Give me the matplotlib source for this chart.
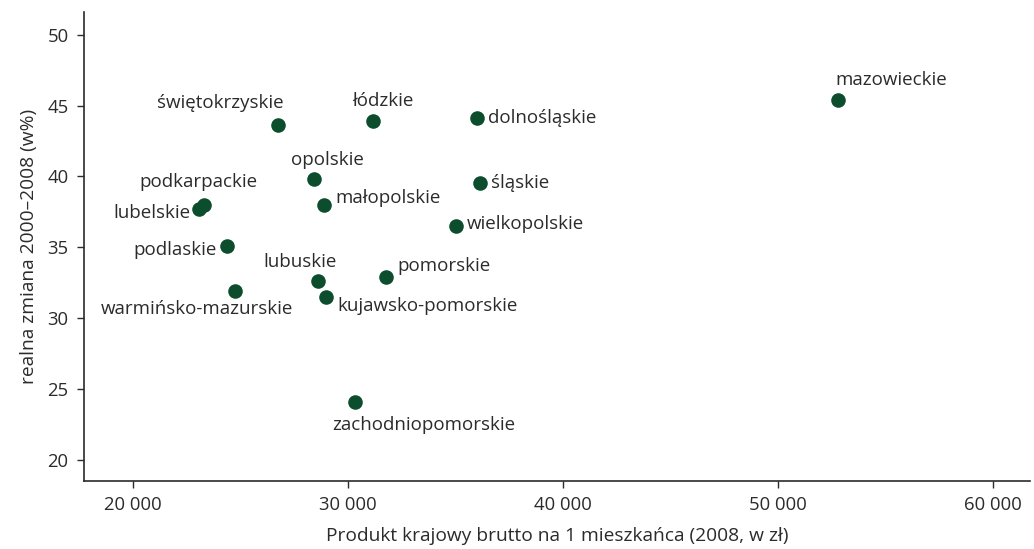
import matplotlib.pyplot as plt
from matplotlib.ticker import FuncFormatter

plt.rcParams['font.family'] = ['Open Sans', 'DejaVu Sans']

regions = ['mazowieckie', 'świętokrzyskie', 'łódzkie', 'dolnośląskie', 'opolskie',
           'podkarpackie', 'lubelskie', 'małopolskie', 'śląskie', 'wielkopolskie',
           'podlaskie', 'lubuskie', 'pomorskie', 'warmińsko-mazurskie',
           'kujawsko-pomorskie', 'zachodniopomorskie']
gdp = [52800, 26750, 31150, 36000, 28400, 23300, 23070, 28880, 36150, 35020,
       24370, 28600, 31770, 24750, 28980, 30330]
growth = [45.4, 43.6, 43.9, 44.1, 39.8, 38.0, 37.7, 38.0, 39.5, 36.5,
          35.1, 32.6, 32.9, 31.9, 31.5, 24.1]

xticks = [20000, 30000, 40000, 50000, 60000]
yticks = [20, 25, 30, 35, 40, 45, 50]

# label placement: (dx px, dy px, ha)
offsets = {
    'mazowieckie': (-3, 20, 'left'),
    'świętokrzyskie': (5, 22, 'right'),
    'łódzkie': (10, 20, 'center'),
    'dolnośląskie': (11, 0, 'left'),
    'opolskie': (14, 19, 'center'),
    'podkarpackie': (-6, 23, 'center'),
    'lubelskie': (-8, -4, 'right'),
    'małopolskie': (11, 7, 'left'),
    'śląskie': (11, 0, 'left'),
    'wielkopolskie': (11, 2, 'left'),
    'podlaskie': (-10, -4, 'right'),
    'lubuskie': (-18, 19, 'center'),
    'pomorskie': (11, 11, 'left'),
    'warmińsko-mazurskie': (-38, -18, 'center'),
    'kujawsko-pomorskie': (11, -9, 'left'),
    'zachodniopomorskie': (69, -23, 'center'),
}

text_color = '#2b2b2b'
dot_color = '#0b4d2c'

fig = plt.figure(figsize=(10.34, 5.49), dpi=100)
ax = fig.add_axes([0.0812, 0.124, 0.915, 0.854])

ax.scatter(gdp, growth, s=110, color=dot_color, zorder=3, linewidths=0)

for name, x, y in zip(regions, gdp, growth):
    dx, dy, ha = offsets[name]
    ax.annotate(name, (x, y), xytext=(dx * 0.72, dy * 0.72), textcoords='offset points',
                ha=ha, va='center', fontsize=13.5, color=text_color)

ax.set_xlim(17720, 61720)
ax.set_ylim(18.5, 51.6)
ax.set_xticks(xticks)
ax.set_yticks(yticks)
ax.xaxis.set_major_formatter(FuncFormatter(lambda v, p: f'{int(v):,}'.replace(',', ' ')))

for s in ['top', 'right']:
    ax.spines[s].set_visible(False)
for s in ['left', 'bottom']:
    ax.spines[s].set_color(text_color)
    ax.spines[s].set_linewidth(1.2)

ax.tick_params(direction='out', length=5, width=1, colors=text_color, labelsize=13.3, pad=6)

ax.set_xlabel('Produkt krajowy brutto na 1 mieszkańca (2008, w zł)', fontsize=13.8,
              color=text_color, labelpad=9)
ax.set_ylabel('realna zmiana 2000–2008 (w%)', fontsize=13.8, color=text_color, labelpad=7)

fig.savefig('out.png', dpi=100)
